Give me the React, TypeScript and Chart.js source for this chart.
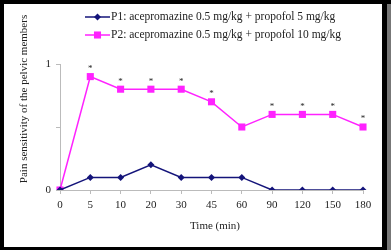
import React, { useEffect, useRef } from "react";
import { Chart, registerables } from "chart.js";

Chart.register(...registerables);

const timeLabels = ["0", "5", "10", "20", "30", "45", "60", "90", "120", "150", "180"];
const p1Values = [0, 0.1, 0.1, 0.2, 0.1, 0.1, 0.1, 0, 0, 0, 0];
const p2Values = [0, 0.9, 0.8, 0.8, 0.8, 0.7, 0.5, 0.6, 0.6, 0.6, 0.5];
const p2Significant = [false, true, true, true, true, true, false, true, true, true, true];
const p1Label = "P1: acepromazine 0.5 mg/kg + propofol 5 mg/kg";
const p2Label = "P2: acepromazine 0.5 mg/kg + propofol 10 mg/kg";
const yTitle = "Pain sensitivity of the pelvic members";
const xTitle = "Time (min)";

const SERIF = "'Liberation Serif', 'DejaVu Serif', serif";
const NAVY = "#14147a";
const MAGENTA = "#ff22ff";
const TEXT = "#222";

// black frame around the white plotting sheet
const framePlugin = {
  id: "frame",
  beforeDraw(chart: any) {
    const { ctx, width, height } = chart;
    ctx.save();
    ctx.fillStyle = "#000";
    ctx.fillRect(0, 0, width, height);
    ctx.fillStyle = "#777";
    ctx.fillRect(387, 4, width - 387, height - 4);
    ctx.fillStyle = "#fff";
    ctx.fillRect(4, 4, 378, 243);
    ctx.restore();
  },
};

function drawMarker(ctx: CanvasRenderingContext2D, style: string, r: number, x: number, y: number) {
  ctx.beginPath();
  if (style === "rect") {
    const s = Math.SQRT1_2 * r;
    ctx.rect(x - s, y - s, 2 * s, 2 * s);
  } else {
    ctx.moveTo(x, y - r);
    ctx.lineTo(x + r, y);
    ctx.lineTo(x, y + r);
    ctx.lineTo(x - r, y);
    ctx.closePath();
  }
  ctx.fill();
}

// asterisks, legend and axis titles
const decorPlugin = {
  id: "decor",
  afterDatasetsDraw(chart: any) {
    const { ctx } = chart;
    ctx.save();
    const meta = chart.getDatasetMeta(1);
    ctx.fillStyle = TEXT;
    ctx.font = `9px ${SERIF}`;
    ctx.textAlign = "center";
    ctx.textBaseline = "middle";
    meta.data.forEach((pt: any, i: number) => {
      if (p2Significant[i]) ctx.fillText("*", pt.x, pt.y - 8);
    });

    const rows = [
      { label: p1Label, color: NAVY, style: "rectRot", radius: 3.5, y: 17 },
      { label: p2Label, color: MAGENTA, style: "rect", radius: 5, y: 35 },
    ];
    rows.forEach((r) => {
      ctx.strokeStyle = r.color;
      ctx.lineWidth = 1.5;
      ctx.beginPath();
      ctx.moveTo(85, r.y);
      ctx.lineTo(110, r.y);
      ctx.stroke();
      ctx.fillStyle = r.color;
      drawMarker(ctx, r.style, r.radius, 97.5, r.y);
      ctx.fillStyle = TEXT;
      ctx.font = `11.5px ${SERIF}`;
      ctx.textAlign = "left";
      ctx.textBaseline = "middle";
      ctx.fillText(r.label, 111, r.y);
    });

    ctx.fillStyle = TEXT;
    ctx.font = `11px ${SERIF}`;
    ctx.textAlign = "center";
    ctx.textBaseline = "middle";
    ctx.fillText(xTitle, 215, 226);
    ctx.translate(24, 99);
    ctx.rotate(-Math.PI / 2);
    ctx.fillText(yTitle, 0, 0);
    ctx.restore();
  },
};

export default function App() {
  const canvasRef = useRef<HTMLCanvasElement | null>(null);

  useEffect(() => {
    document.body.style.margin = "0";
    const canvas = canvasRef.current;
    if (!canvas) return;
    const chart = new Chart(canvas, {
      type: "line",
      data: {
        labels: timeLabels,
        datasets: [
          {
            label: p1Label,
            data: p1Values,
            borderColor: NAVY,
            backgroundColor: NAVY,
            borderWidth: 1.5,
            pointStyle: "rectRot",
            pointRadius: 3.5,
            pointBorderWidth: 0,
            tension: 0,
          },
          {
            label: p2Label,
            data: p2Values,
            borderColor: MAGENTA,
            backgroundColor: MAGENTA,
            borderWidth: 1.5,
            pointStyle: "rect",
            pointRadius: 5,
            pointBorderWidth: 0,
            tension: 0,
          },
        ],
      },
      options: {
        animation: false,
        responsive: false,
        devicePixelRatio: 1,
        layout: { padding: { left: 0, top: 64, right: 28, bottom: 0 } },
        plugins: {
          legend: { display: false },
          tooltip: { enabled: false },
        },
        scales: {
          x: {
            type: "category",
            offset: false,
            border: { color: "#bbb", width: 1 },
            grid: { drawOnChartArea: false, tickLength: 4, color: "#bbb" },
            ticks: {
              color: TEXT,
              font: { family: SERIF, size: 11 },
              padding: 5,
              maxRotation: 0,
              autoSkip: false,
            },
            afterFit: (s: any) => {
              s.height = 60;
            },
          },
          y: {
            min: 0,
            max: 1,
            border: { color: "#bbb", width: 1 },
            grid: { drawOnChartArea: false, tickLength: 4, color: "#bbb" },
            ticks: {
              stepSize: 0.5,
              color: TEXT,
              font: { family: SERIF, size: 11 },
              padding: 5,
              callback: (v: any) => (v === 0 || v === 1 ? String(v) : ""),
            },
            afterFit: (s: any) => {
              s.width = 60;
            },
          },
        },
      },
      plugins: [framePlugin, decorPlugin],
    });
    return () => chart.destroy();
  }, []);

  return <canvas ref={canvasRef} width={391} height={250} style={{ display: "block" }} />;
}
